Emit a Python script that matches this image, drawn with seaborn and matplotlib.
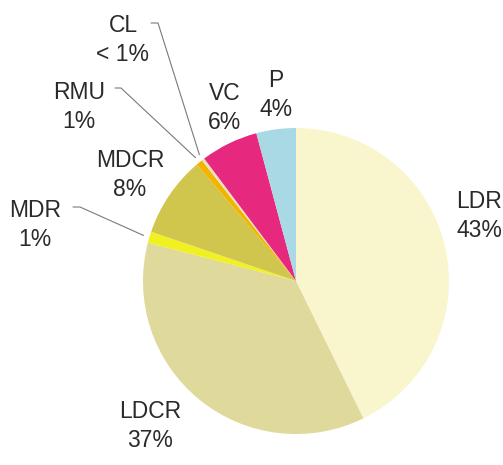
import numpy as np
import seaborn as sns
import matplotlib
matplotlib.use('Agg')
import matplotlib.pyplot as plt

# Land use shares (percent), clockwise from 12 o'clock
categories = ['LDR', 'LDCR', 'MDR', 'MDCR', 'RMU', 'CL', 'VC', 'P']
shares = [43.0, 36.5, 1.2, 8.6, 0.7, 0.3, 6.1, 4.2]
pct_labels = ['43%', '37%', '1%', '8%', '1%', '< 1%', '6%', '4%']
colors = ['#f9f6cd', '#dfd99c', '#f1f020', '#d0c64e', '#f3b400',
          '#e9e2c0', '#e6297f', '#a9d9e4']

sns.set_theme(style='white')
plt.rcParams['font.family'] = ['Liberation Sans', 'DejaVu Sans']

W, H = 503, 465
fig = plt.figure(figsize=(W / 100, H / 100), dpi=100)
ax = fig.add_axes([0, 0, 1, 1])
ax.set_xlim(0, W)
ax.set_ylim(0, H)
ax.set_aspect('equal')

cx, cy, r = 296, 184, 153
wedges, _ = ax.pie(shares, colors=colors, startangle=90, counterclock=False,
                   center=(cx, cy), radius=r,
                   wedgeprops=dict(linewidth=0), frame=True)
ax.axis('off')

# label block centres (pixels, y from bottom)
label_pos = {
    'LDR': (479, 249), 'LDCR': (150, 39), 'MDR': (35, 240),
    'MDCR': (130, 290), 'RMU': (79, 358), 'CL': (123, 425),
    'VC': (225, 357), 'P': (276, 370),
}
# leader line elbows for the small slices
leader = {
    'CL': [(151, 442), (158, 442)],
    'RMU': [(115, 377), (121, 377)],
    'MDR': [(73, 258), (80, 258)],
}

for w, cat, pct in zip(wedges, categories, pct_labels):
    x, y = label_pos[cat]
    ax.text(x, y, f'{cat}\n{pct}', ha='center', va='center', fontsize=16.5,
            color='#2a2a2a', linespacing=1.3)
    if cat in leader:
        mid = np.deg2rad((w.theta1 + w.theta2) / 2)
        ex = cx + r * 1.04 * np.cos(mid)
        ey = cy + r * 1.04 * np.sin(mid)
        pts = leader[cat] + [(ex, ey)]
        ax.plot([p[0] for p in pts], [p[1] for p in pts],
                color='#7a7a7a', lw=0.8)

fig.savefig('out.png', dpi=100, facecolor='white')
